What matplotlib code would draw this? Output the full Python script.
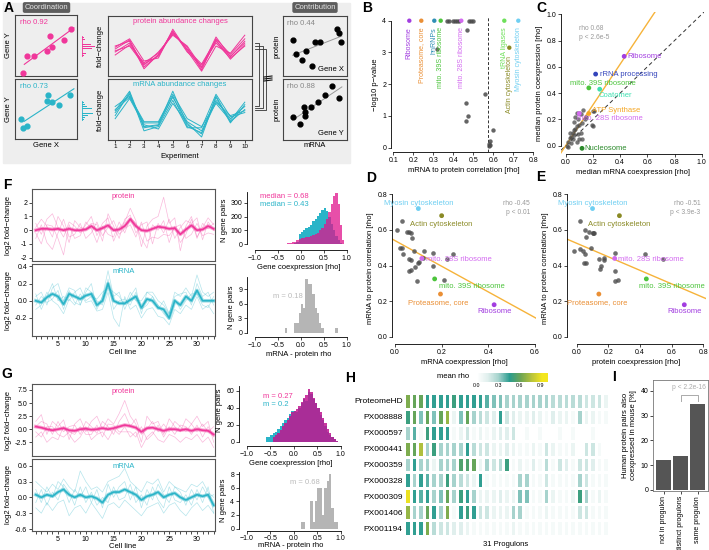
import numpy as np
import matplotlib
matplotlib.use("Agg")
import matplotlib.pyplot as plt
from matplotlib.colors import LinearSegmentedColormap
from matplotlib.lines import Line2D
from matplotlib.patches import Rectangle
import matplotlib.cm as cm

plt.rcParams['font.family'] = ['Liberation Sans', 'DejaVu Sans']
plt.rcParams['axes.linewidth'] = 0.6

PINK = '#f0369a'
CYAN = '#2ab4c8'
GREY = '#4a4a4a'
ORANGE = '#f6b33a'

# ---------------- data ----------------
# A: coordination scatters (unit coords)
a_prot_x = [0.13, 0.19, 0.30, 0.51, 0.57, 0.59, 0.79, 0.90]
a_prot_y = [0.05, 0.33, 0.32, 0.41, 0.66, 0.48, 0.59, 0.77]
a_mrna_x = [0.09, 0.13, 0.20, 0.52, 0.54, 0.59, 0.71, 0.88]
a_mrna_y = [0.34, 0.19, 0.22, 0.63, 0.74, 0.61, 0.56, 0.74]
a_experiments = list(range(1, 11))
a_prot_lines = [
    [0.40, 0.55, 0.20, 0.33, 0.72, 0.45, 0.13, 0.58, 0.33, 0.55],
    [0.45, 0.60, 0.15, 0.35, 0.75, 0.40, 0.18, 0.55, 0.30, 0.50],
    [0.35, 0.52, 0.22, 0.38, 0.70, 0.48, 0.10, 0.62, 0.36, 0.62],
    [0.48, 0.62, 0.25, 0.30, 0.78, 0.42, 0.08, 0.50, 0.38, 0.68],
    [0.42, 0.50, 0.18, 0.40, 0.68, 0.50, 0.15, 0.65, 0.32, 0.58],
    [0.50, 0.58, 0.12, 0.36, 0.74, 0.44, 0.20, 0.60, 0.28, 0.52],
]
a_mrna_lines = [
    [0.45, 0.75, 0.22, 0.25, 0.80, 0.25, 0.10, 0.72, 0.30, 0.50],
    [0.50, 0.70, 0.28, 0.28, 0.70, 0.30, 0.15, 0.65, 0.35, 0.55],
    [0.40, 0.78, 0.15, 0.22, 0.65, 0.20, 0.20, 0.75, 0.38, 0.45],
    [0.55, 0.72, 0.30, 0.30, 0.75, 0.35, 0.22, 0.60, 0.32, 0.62],
    [0.35, 0.68, 0.25, 0.18, 0.60, 0.28, 0.05, 0.70, 0.28, 0.58],
    [0.48, 0.80, 0.20, 0.24, 0.72, 0.22, 0.12, 0.62, 0.40, 0.48],
]
a_genex_mrna = [0.16, 0.21, 0.29, 0.36, 0.45, 0.50, 0.58, 0.85, 0.88, 0.90]
a_genex_prot = [0.60, 0.37, 0.26, 0.41, 0.17, 0.57, 0.56, 0.78, 0.71, 0.56]
a_geney_mrna = [0.15, 0.26, 0.33, 0.34, 0.34, 0.43, 0.54, 0.66, 0.76, 0.88]
a_geney_prot = [0.37, 0.26, 0.54, 0.46, 0.40, 0.54, 0.63, 0.74, 0.89, 0.69]
a_glyph_prot = [2, 4, 6, 9, 12, 8, 5, 3, 2]
a_glyph_mrna = [2, 3, 6, 10, 12, 9, 5, 3, 2]

# B: volcano-like
b_grey_x = [0.32, 0.37, 0.38, 0.40, 0.41, 0.42, 0.43, 0.48, 0.49, 0.50, 0.47,
            0.56, 0.465, 0.475, 0.465, 0.60, 0.585, 0.58, 0.578, 0.586]
b_grey_y = [3.1, 4, 4, 4, 4, 4, 4, 4, 4, 4, 3.7,
            1.7, 1.4, 1.0, 0.83, 0.55, 0.22, 0.12, 0.05, 0.08]
b_names = ['Ribosome', 'Proteasome, core', 'hnRNPs', 'mito. 39S ribosome',
           'mito. 28S ribosome', 'tRNA ligases', 'Actin cytoskeleton', 'Myosin cytoskeleton']
b_x = [0.18, 0.24, 0.305, 0.337, 0.44, 0.655, 0.68, 0.725]
b_y = [4, 4, 4, 4, 4, 4, 3.15, 4]
b_colors = ['#a23ee0', '#ea8f35', '#2f8fb5', '#4cc43c', '#d36af0', '#6ee05a', '#8a8a25', '#6fcff2']
b_cutoff = 0.572

# C: median coexpression
c_grey_x = [0.02, 0.03, 0.04, 0.05, 0.06, 0.05, 0.07, 0.08, 0.06, 0.07, 0.08, 0.10, 0.09,
            0.10, 0.12, 0.14, 0.10, 0.12, 0.08, 0.09, 0.11, 0.03, 0.15, 0.20, 0.21, 0.19,
            0.20, 0.13, 0.11, 0.06, 0.04, 0.01, 0.02]
c_grey_y = [0.03, 0.06, 0.02, 0.10, 0.08, 0.05, 0.13, 0.15, 0.18, 0.22, 0.25, 0.25, 0.20,
            0.16, 0.17, 0.20, 0.05, 0.05, 0.03, 0.09, 0.10, 0.10, 0.22, 0.265, 0.265, 0.16,
            0.15, 0.27, 0.24, 0.12, 0.07, 0.00, -0.01]
c_names = ['Ribosome', 'rRNA processing', 'mito. 39S ribosome', 'Coatomer',
           'ATP Synthase', 'mito. 28S ribosome', 'Nucleosome']
c_x = [0.43, 0.22, 0.17, 0.25, 0.17, 0.10, 0.12]
c_y = [0.68, 0.545, 0.44, 0.43, 0.245, 0.245, -0.02]
c_colors = ['#a23ee0', '#3344bb', '#4cc43c', '#3de0b0', '#f5a623', '#d36af0', '#2a8a2a']
c_fit = (0.0, 1.55)

# D / E
de_names = ['Myosin cytoskeleton', 'Actin cytoskeleton', 'mito. 28S ribosome',
            'mito. 39S ribosome', 'Proteasome, core', 'Ribosome']
de_colors = ['#6fcff2', '#8a8a25', '#d36af0', '#4cc43c', '#ea8f35', '#a23ee0']
de_y = [0.72, 0.68, 0.44, 0.325, 0.24, 0.18]
d_x = [0.10, 0.20, 0.115, 0.17, 0.195, 0.425]
d_grey_x = [0.01, 0.03, 0.02, 0.03, 0.035, 0.05, 0.06, 0.07, 0.075, 0.08, 0.06, 0.07, 0.06,
            0.07, 0.085, 0.095, 0.10, 0.105, 0.125, 0.12, 0.165, 0.165, 0.21, 0.225, 0.25]
d_grey_y = [0.60, 0.65, 0.50, 0.50, 0.465, 0.59, 0.59, 0.585, 0.555, 0.48, 0.435, 0.43, 0.37,
            0.375, 0.39, 0.315, 0.415, 0.42, 0.48, 0.445, 0.47, 0.395, 0.32, 0.435, 0.465]
d_fit = (0.54, -0.72)
e_x = [0.10, 0.27, 0.24, 0.44, 0.14, 0.68]
e_grey_x = [-0.02, 0.02, 0.02, 0.04, 0.05, 0.06, 0.055, 0.045, 0.06, 0.08, 0.10, 0.105, 0.11,
            0.09, 0.14, 0.15, 0.155, 0.17, 0.17, 0.24, 0.24, 0.245, 0.26, 0.43, 0.545]
e_grey_y = [0.48, 0.495, 0.65, 0.48, 0.60, 0.56, 0.465, 0.415, 0.415, 0.59, 0.585, 0.58, 0.585,
            0.50, 0.435, 0.38, 0.395, 0.43, 0.44, 0.47, 0.37, 0.315, 0.32, 0.465, 0.435]
e_fit = (0.525, -0.38)

# F / G traces over 33 cell lines
cell_lines = list(range(1, 34))
f_prot_mean = [0.0, 0.1, 0.1, 0.05, 0.1, 0.0, 0.1, 0.0, 0.0, 0.05, 0.3, 0.0, 0.15, 0.35, 0.0, 0.05, 0.3,
               0.8, 0.3, 0.0, -0.05, 0.1, 0.25, 0.2, 0.1, 0.15, -0.3, 0.05, 0.35, 0.0, 0.05, 0.3, 0.1]
f_prot_traces = [
    [0.5, -0.3, 0.8, 1.2, 0.2, -0.5, 0.6, 0.3, -0.2, 0.4, 1.0, -0.4, 0.5, 0.9, -0.8, 0.2, 0.6,
     1.6, 0.7, -1.2, 0.3, 0.8, 1.0, 2.4, 0.5, 0.9, -1.5, 0.3, 1.0, -0.5, 0.2, 0.9, 0.4],
    [-0.6, 0.4, -0.9, -1.4, -0.2, 0.8, -0.5, -0.3, 0.5, -0.6, -0.2, 0.6, -0.4, 0.2, 0.7, -0.3, 0.1,
     0.4, -0.5, 0.6, -0.8, -0.5, -0.6, -0.3, -0.4, 0.2, 0.4, -0.6, -0.3, 0.5, -0.4, -0.2, -0.3],
    [0.2, 0.8, 0.3, -0.5, 1.0, 0.3, -0.9, 0.7, 0.2, 0.1, 0.5, 0.4, -0.8, 1.2, 0.3, -0.6, 0.8,
     1.1, -0.2, 0.4, 0.6, -1.0, 0.5, -0.2, 0.8, -0.6, 0.2, 0.7, 0.5, 0.9, -0.7, 0.6, 0.0],
    [-0.2, -1.0, 0.4, 0.3, -0.6, -1.8, 0.4, -0.6, -0.4, 0.6, 0.1, -0.9, 0.3, -0.3, -0.5, 0.6, -0.2,
     0.9, 0.5, -0.6, -1.3, 0.4, 0.0, 0.7, -0.9, 0.3, -0.9, -0.3, 0.8, -0.6, 0.5, 0.1, 0.5],
]
f_mrna_mean = [0.0, -0.02, 0.04, 0.08, 0.05, -0.04, 0.08, 0.05, 0.02, 0.06, 0.08, -0.05, 0.0, 0.2, 0.0,
               -0.03, -0.03, 0.01, 0.05, -0.08, 0.02, 0.0, -0.08, -0.1, -0.2, 0.0, -0.05, 0.05, 0.0,
               0.12, 0.0, 0.0, 0.0]
f_mrna_traces = [
    [0.05, 0.1, -0.05, 0.15, 0.2, 0.0, 0.15, 0.12, -0.05, 0.1, 0.2, -0.1, 0.05, 0.35, 0.05, 0.1, -0.1,
     0.05, 0.15, -0.15, 0.1, 0.1, 0.0, -0.05, -0.15, 0.1, 0.05, 0.15, 0.05, 0.3, 0.1, 0.05, 0.1],
    [-0.1, -0.05, 0.1, 0.0, -0.05, -0.15, 0.02, -0.05, 0.08, -0.02, 0.0, -0.12, -0.1, 0.1, -0.2, -0.3,
     0.05, -0.1, -0.05, -0.2, -0.1, -0.08, -0.18, -0.2, -0.28, -0.1, -0.15, -0.05, -0.1, 0.05, -0.1,
     -0.05, -0.15],
    [0.08, -0.1, 0.05, 0.2, 0.0, 0.05, 0.0, 0.1, 0.15, 0.0, 0.05, 0.02, 0.1, 0.15, 0.1, 0.05, -0.05,
     0.1, 0.0, 0.0, 0.1, 0.05, -0.1, 0.0, -0.15, 0.05, 0.08, 0.1, -0.05, 0.2, 0.05, 0.1, -0.05],
    [-0.05, 0.05, -0.02, 0.02, 0.12, -0.1, 0.12, -0.02, -0.05, 0.15, 0.1, 0.0, -0.05, 0.25, -0.1, 0.0,
     0.02, -0.05, 0.1, -0.1, -0.05, 0.05, -0.05, -0.15, -0.22, 0.02, -0.1, 0.0, 0.08, 0.08, -0.05,
     -0.08, 0.05],
]
g_prot_mean = [0.5, 0.3, 0.0, -0.2, 0.0, 0.2, -0.2, -0.3, 0.0, 0.1, -0.1, 0.0, 0.2, 0.0, 0.2, 0.5, 0.8,
               0.6, 0.3, -0.5, 0.2, 0.3, 0.0, -0.3, 0.0, 0.0, -0.2, 0.0, -0.3, 0.0, -0.2, -0.3, -1.0]
g_prot_traces = [
    [1.5, 2.8, -1.0, 1.5, 0.5, 1.8, -2.0, 1.0, 2.0, -0.5, 1.5, 2.5, 0.0, 2.0, 1.0, 3.0, 5.5, 2.5, 1.0,
     -2.5, 2.5, 1.0, 1.5, -1.0, 2.0, 0.5, -0.5, 2.0, 1.0, 2.5, 0.5, 1.5, -2.5],
    [-1.5, -0.5, -2.5, -1.5, -2.0, 0.5, -1.0, -2.5, -1.5, 0.5, -2.0, -1.0, -0.5, -2.0, 0.0, -1.0, 0.5,
     -1.5, -0.5, -3.5, -1.5, -0.5, -2.0, -2.5, -1.0, -1.5, -2.5, -1.5, -2.0, -1.0, -2.5, -1.5, -3.5],
    [0.5, 1.5, 1.0, -1.0, 1.5, -0.5, 0.5, 0.8, -1.0, 1.5, 0.5, -0.8, 1.5, 0.5, -1.0, 1.5, 3.0, 0.5,
     2.0, -1.0, 0.0, 1.5, -0.5, 1.0, -0.5, 1.5, 0.5, -0.5, 1.0, -0.5, 1.0, -0.5, 0.5],
    [-0.5, -1.5, 0.5, 0.5, -1.0, -1.5, -0.5, -1.0, 0.5, -1.0, -1.0, 0.8, -1.5, 1.0, 0.8, -0.5, -0.5,
     -0.5, -1.5, 0.5, -2.0, -1.0, 0.8, -1.5, 0.5, -1.0, 0.8, 0.5, -1.0, 0.8, -1.5, 0.5, -1.5],
]
g_mrna_mean = [0.05, 0.0, 0.05, 0.02, 0.1, 0.15, 0.05, 0.0, 0.05, 0.0, 0.02, -0.02, -0.1, 0.05, 0.1,
               0.1, 0.15, 0.1, 0.05, -0.05, 0.02, 0.05, 0.1, 0.0, 0.05, 0.08, 0.0, -0.05, 0.0, 0.05,
               0.02, 0.05, -0.15]
g_mrna_traces = [
    [0.3, 0.2, 0.1, 0.25, 0.15, 0.35, 0.2, 0.1, 0.5, 0.3, 0.15, 0.2, 0.1, 0.3, 0.35, 0.4, 0.55, 0.3,
     0.2, 0.1, 0.3, 0.25, 0.35, 0.1, 0.3, 0.2, 0.15, 0.1, 0.25, 0.2, 0.3, 0.1, 0.0],
    [-0.2, -0.3, -0.1, -0.25, -0.1, -0.05, -0.35, -0.2, -0.15, -0.3, -0.1, -0.25, -0.4, -0.15, -0.1,
     -0.2, -0.05, -0.15, -0.25, -0.35, -0.2, -0.15, -0.1, -0.3, -0.15, -0.1, -0.25, -0.35, -0.2,
     -0.1, -0.25, -0.15, -0.3],
    [0.15, -0.1, 0.2, 0.0, 0.3, 0.2, -0.1, 0.15, 0.0, 0.2, -0.1, 0.15, -0.2, 0.25, 0.0, 0.2, 0.3,
     -0.05, 0.2, -0.2, 0.15, -0.05, 0.25, 0.05, -0.1, 0.2, 0.1, -0.15, 0.15, -0.05, 0.2, 0.0, 0.05],
    [-0.1, 0.15, -0.15, 0.1, -0.05, 0.25, 0.1, -0.15, 0.2, -0.1, 0.1, -0.15, 0.0, -0.1, 0.2, -0.05,
     0.0, 0.25, -0.1, 0.05, -0.15, 0.2, -0.05, -0.2, 0.2, -0.05, -0.1, 0.05, -0.15, 0.15, -0.1, 0.2,
     -0.3],
]

# histograms (bin start, bin width, counts)
f_coexp_start = -0.35
f_coexp_prot = [4, 6, 9, 14, 20, 28, 35, 42, 48, 52, 56, 60, 65, 72, 85, 100, 120, 150, 185, 230,
                290, 350, 370, 290, 140, 30]
f_coexp_mrna = [0, 0, 0, 3, 8, 20, 75, 90, 105, 115, 125, 140, 165, 185, 205, 225, 245, 260, 240,
                200, 150, 100, 60, 30, 12, 4]
f_diff_start = -0.35
f_diff = [1, 0, 0, 0, 2, 2, 4, 6, 5, 11, 10, 10, 8, 5, 4, 2, 1, 0, 0, 0, 0, 0, 1]
g_coexp_start = -0.6
g_coexp_mrna = [5, 5, 8, 10, 12, 15, 18, 22, 25, 28, 33, 36, 36, 35, 40, 45, 50, 48, 58, 56, 50, 45,
                40, 32, 25, 18, 12, 8, 5, 3, 1]
g_coexp_prot = [0, 0, 0, 5, 8, 10, 14, 18, 22, 26, 30, 35, 36, 38, 42, 47, 52, 55, 62, 58, 52, 46,
                40, 35, 28, 22, 15, 10, 6, 3, 1]
g_diff_start = 0.15
g_diff = [1, 1, 0, 0, 4, 1, 4, 6, 6, 2, 6, 7, 8, 3, 1, 1]
bin_w = 0.05

# H heatmap
h_rows = ['ProteomeHD', 'PX008888', 'PX000597', 'PX000441', 'PX000359',
          'PX000328', 'PX000309', 'PX001406', 'PX001194']
h_vals = [
    [0.65, 0.6, 0.6, 0.45, 0.45, 0.45, 0.45, 0.5, 0.45, 0.45, 0.45, 0.45, 0.4, 0.35, 0.35, 0.3, 0.3,
     0.3, 0.3, 0.3, 0.3, 0.3, 0.25, 0.25, 0.25, 0.25, 0.25, 0.2, 0.2, 0.2, 0.1],
    [0.5, 0.6, 0.35, 0.6, 0.35, 0.6, 0.7, 0.1, 0.35, 0.6, 0.3, 0.25, 0.2, 0.15, 0.45, 0.2, 0.15, 0.1,
     0.1, 0.15, 0.1, 0.05, 0.15, 0.1, 0.1, 0.05, 0.3, 0.1, 0.1, 0.05, 0.05],
    [0.3, 0.4, 0.05, 0.5, 0.45, 0.45, 0.45, 0.05, 0.1, 0.2, 0.05, 0.1, 0.05, 0.1, 0.15, 0.15, 0.2,
     0.0, 0.05, 0.0, 0.05, 0.0, 0.0, 0.05, 0.0, 0.05, 0.0, 0.0, 0.05, 0.0, 0.0],
    [0.65, 0.6, 0.75, 0.3, 0.5, 0.3, 0.3, 0.3, 0.3, 0.45, 0.25, 0.2, 0.2, 0.1, 0.1, 0.15, 0.1, 0.05,
     0.05, 0.1, 0.05, 0.2, 0.1, 0.05, 0.05, 0.1, 0.0, 0.2, 0.2, 0.05, 0.0],
    [0.3, 0.45, 0.3, 0.3, 0.1, 0.3, 0.3, 0.3, 0.55, 0.55, 0.6, 0.1, 0.3, 0.2, 0.25, 0.5, 0.05, 0.1,
     0.05, 0.15, 0.05, 0.25, 0.05, 0.2, 0.15, 0.05, 0.2, 0.2, 0.15, 0.05, 0.05],
    [0.45, 0.3, 0.45, 0.4, 0.3, 0.3, 0.5, 0.3, 0.25, 0.2, 0.1, 0.45, 0.05, 0.05, 0.05, 0.05, 0.05,
     0.3, 0.3, 0.05, 0.05, 0.2, 0.05, 0.05, 0.05, 0.05, 0.3, 0.2, 0.05, 0.05, 0.05],
    [0.9, 0.45, 0.4, 0.45, 0.3, 0.35, 0.6, 0.3, 0.5, 0.45, 0.3, 0.1, 0.1, 0.1, 0.15, 0.1, 0.1, 0.35,
     0.35, 0.05, 0.05, 0.3, 0.1, 0.05, 0.05, 0.1, 0.5, 0.3, 0.05, 0.1, 0.05],
    [0.7, 0.3, 0.3, 0.6, 0.45, 0.3, 0.65, 0.05, 0.45, 0.5, 0.45, 0.2, 0.2, 0.1, 0.1, 0.1, 0.3, 0.3,
     0.05, 0.05, 0.05, 0.1, 0.05, 0.05, 0.05, 0.05, 0.2, 0.2, 0.05, 0.05, 0.05],
    [0.45, 0.45, 0.45, 0.65, 0.25, 0.2, 0.2, 0.15, 0.15, 0.1, 0.05, 0.05, 0.05, 0.05, 0.05, 0.05, 0.1,
     0.05, 0.05, 0.05, 0.05, 0.05, 0.05, 0.05, 0.05, 0.05, 0.05, 0.05, 0.05, 0.05, 0.05],
]

# I bars
i_cats = ['not in progulon', 'distinct progulons', 'same progulon']
i_vals = [12.2, 13.8, 34.5]

# ---------------- helpers ----------------
W, H = 709, 550
fig = plt.figure(figsize=(7.09, 5.5), dpi=100)


def axes_px(x0, y0, x1, y1, xcal=None, ycal=None):
    ax = fig.add_axes([x0 / W, 1 - y1 / H, (x1 - x0) / W, (y1 - y0) / H])
    if xcal:
        (v0, p0), (v1, p1) = xcal
        s = (p1 - p0) / (v1 - v0)
        ax.set_xlim(v0 + (x0 - p0) / s, v0 + (x1 - p0) / s)
    if ycal:
        (v0, p0), (v1, p1) = ycal
        s = (p1 - p0) / (v1 - v0)
        ax.set_ylim(v0 + (y1 - p0) / s, v0 + (y0 - p0) / s)
    return ax


def ftext(x, y, s, **kw):
    fig.text(x / W, 1 - y / H, s, **kw)


def rstyle(ax, xb=None, yb=None):
    for s in ['top', 'right']:
        ax.spines[s].set_visible(False)
    if xb:
        ax.spines['bottom'].set_bounds(*xb)
    if yb:
        ax.spines['left'].set_bounds(*yb)
    ax.tick_params(labelsize=5, length=2, width=0.5, pad=1.5)
    ax.set_facecolor('none')


def frame(ax, color='#444444', lw=0.8):
    for s in ax.spines.values():
        s.set_color(color)
        s.set_linewidth(lw)
    ax.set_xticks([])
    ax.set_yticks([])
    ax.set_facecolor('none')


def fline(pts, **kw):
    xs = [p[0] / W for p in pts]
    ys = [1 - p[1] / H for p in pts]
    fig.add_artist(Line2D(xs, ys, transform=fig.transFigure, **kw))


def hist(ax, start, counts, **kw):
    edges = start + bin_w * np.arange(len(counts) + 1)
    ax.stairs(counts, edges, fill=True, **kw)


# ---------------- panel letters ----------------
for lab, (x, y) in {'A': (9, 8), 'B': (367, 8), 'C': (541, 8), 'D': (371, 178), 'E': (541, 177),
                    'F': (7, 185), 'G': (7, 374), 'H': (350, 378), 'I': (614, 377)}.items():
    ftext(x, y, lab, fontsize=10, fontweight='bold', ha='center', va='center')

# ---------------- A ----------------
fig.add_artist(Rectangle((3 / W, 1 - 163 / H), 347 / W, 160 / H, transform=fig.transFigure,
                         color='#eeeeee', zorder=0))
for txt, cx in [('Coordination', 46.5), ('Contribution', 315)]:
    ftext(cx, 7.5, txt, fontsize=5.5, color='#e6e6e6', ha='center', va='center',
          bbox=dict(boxstyle='round,pad=0.25', fc='#5e5e5e', ec='none'))

for (y0, y1), xs, ys, col, rho in [((15, 76), a_prot_x, a_prot_y, PINK, 'rho 0.92'),
                                     ((79, 139), a_mrna_x, a_mrna_y, CYAN, 'rho 0.73')]:
    ax = axes_px(15, y0, 77, y1)
    ax.set_xlim(0, 1)
    ax.set_ylim(0, 1)
    frame(ax)
    ax.scatter(xs, ys, s=12, color=col, zorder=3)
    m, b = np.polyfit(xs, ys, 1)
    ax.plot([0.15, 0.95], [m * 0.15 + b, m * 0.95 + b], color=col, lw=0.8)
    ax.text(0.08, 0.93, rho, transform=ax.transAxes, color=col, fontsize=5.5, va='top')
    ftext(8, (y0 + y1) / 2, 'Gene Y', fontsize=5.5, rotation=90, ha='center', va='center')
ftext(46, 146, 'Gene X', fontsize=5.5, ha='center', va='center')

for (y0, y1), glyph, col in [((36, 57), a_glyph_prot, PINK), ((101, 121), a_glyph_mrna, CYAN)]:
    ax = axes_px(82, y0, 97, y1)
    ax.barh(range(len(glyph)), glyph, height=0.35, color=col)
    ax.axvline(0, color=col, lw=0.6)
    ax.set_xlim(0, 14)
    ax.axis('off')

for (y0, y1), lines, col, title, show_x in [((16, 76), a_prot_lines, PINK, 'protein abundance changes', False),
                                              ((79, 140), a_mrna_lines, CYAN, 'mRNA abundance changes', True)]:
    ax = axes_px(108, y0, 252, y1)
    for ln in lines:
        ax.plot(a_experiments, ln, color=col, lw=0.7)
    ax.set_xlim(0.5, 10.5)
    ax.set_ylim(0, 1)
    frame(ax)
    ax.text(0.5, 0.97, title, transform=ax.transAxes, color=col, fontsize=5.5, ha='center', va='top')
    ftext(100, (y0 + y1) / 2, 'fold\u2212change', fontsize=5.5, rotation=90, ha='center', va='center')
    if show_x:
        ax.set_xticks(a_experiments)
        ax.tick_params(labelsize=4.5, length=2, width=0.5, pad=1)
ftext(180, 156, 'Experiment', fontsize=5.5, ha='center', va='center')

for i in range(3):
    fline([(255, 43 + 3 * i), (259 + 3.5 * i, 43 + 3 * i), (259 + 3.5 * i, 106 + 2 * i), (255, 106 + 2 * i)],
          color='#333333', lw=0.6)
for i in range(3):
    fline([(264, 77 + 2 * i), (272, 76 + 2 * i)], color='#111111', lw=0.8)

for (y0, y1), xs, ys, rho, gene in [((16, 76), a_genex_mrna, a_genex_prot, 'rho 0.44', 'Gene X'),
                                      ((79, 140), a_geney_mrna, a_geney_prot, 'rho 0.88', 'Gene Y')]:
    ax = axes_px(283, y0, 347, y1)
    ax.set_xlim(0, 1)
    ax.set_ylim(0, 1)
    frame(ax)
    ax.scatter(xs, ys, s=12, color='black', zorder=3)
    m, b = np.polyfit(xs, ys, 1)
    ax.plot([0.15, 0.92], [m * 0.15 + b, m * 0.92 + b], color='#999999', lw=0.7)
    ax.text(0.06, 0.94, rho, transform=ax.transAxes, color='#888888', fontsize=5.5, va='top')
    ax.text(0.95, 0.05, gene, transform=ax.transAxes, color='black', fontsize=5.5, ha='right', va='bottom')
    ftext(277, (y0 + y1) / 2, 'protein', fontsize=5.5, rotation=90, ha='center', va='center')
ftext(315, 146, 'mRNA', fontsize=5.5, ha='center', va='center')

# ---------------- B ----------------
ax = axes_px(391, 17, 537, 152, xcal=((0.1, 393.3), (0.8, 533.3)), ycal=((0, 147.7), (4, 20.7)))
rstyle(ax, (0.1, 0.8), (0, 4))
ax.scatter(b_grey_x, b_grey_y, s=10, color=GREY, alpha=0.85, lw=0, zorder=3)
ax.scatter(b_x, b_y, s=10, color=b_colors, lw=0, zorder=4)
for n, x, y, c in zip(b_names, b_x, b_y, b_colors):
    y_top = y - 0.2 if n != 'Actin cytoskeleton' else y - 0.25
    ax.text(x, y_top, n, rotation=90, ha='center', va='top', fontsize=5, color=c)
ax.axvline(b_cutoff, color='#333333', ls=(0, (3, 2)), lw=0.7)
ax.set_xticks(np.arange(0.1, 0.81, 0.1))
ax.set_yticks([0, 1, 2, 3, 4])
ax.set_xlabel('mRNA to protein correlation [rho]', fontsize=5.5, labelpad=2)
ax.set_ylabel('\u2212log10 p\u2212value', fontsize=5.5, labelpad=2)

# ---------------- C ----------------
ax = axes_px(561, 12, 704, 154, xcal=((0, 565.7), (1, 701.7)), ycal=((0, 145.7), (1, 14.3)))
rstyle(ax, (0, 1), (0, 1))
ax.axline((0, 0), slope=1, color='#333333', ls=(0, (4, 3)), lw=0.7)
ax.axline((0, c_fit[0]), slope=c_fit[1], color=ORANGE, lw=1)
ax.scatter(c_grey_x, c_grey_y, s=10, color=GREY, alpha=0.75, lw=0, zorder=3)
ax.scatter(c_x, c_y, s=12, color=c_colors, lw=0, zorder=4)
c_label_pos = {'Ribosome': (0.45, 0.68, 'left'), 'rRNA processing': (0.25, 0.545, 'left'),
               'mito. 39S ribosome': (0.27, 0.475, 'center'), 'Coatomer': (0.24, 0.385, 'left'),
               'ATP Synthase': (0.19, 0.27, 'left'), 'mito. 28S ribosome': (0.08, 0.205, 'left'),
               'Nucleosome': (0.14, -0.02, 'left')}
for n, c in zip(c_names, c_colors):
    tx, ty, h = c_label_pos[n]
    ax.text(tx, ty, n, color=c, fontsize=5.5, ha=h, va='center')
ax.text(0.1, 0.92, 'rho 0.68\np < 2.6e-5', color='#999999', fontsize=4.8, va='top', linespacing=1.4)
ax.set_xticks([0, 0.2, 0.4, 0.6, 0.8, 1.0])
ax.set_yticks([0, 0.2, 0.4, 0.6, 0.8, 1.0])
ax.set_xlabel('median mRNA coexpression [rho]', fontsize=5.5, labelpad=2)
ax.set_ylabel('median protein coexpression [rho]', fontsize=5.5, labelpad=2)

# ---------------- D / E ----------------
for x0, x1, xcal, gx, gy, cx, fit, stat, xlab, xt, xb in [
        (392, 536, ((0, 395), (0.4, 488.3)), d_grey_x, d_grey_y, d_x, d_fit, 'rho -0.45\np < 0.01',
         'mRNA coexpression [rho]', [0, 0.2, 0.4, 0.6], (0, 0.6)),
        (567, 706, ((0, 576.7), (0.8, 703.3)), e_grey_x, e_grey_y, e_x, e_fit, 'rho -0.51\np < 3.9e-3',
         'protein coexpression [rho]', [0, 0.2, 0.4, 0.6, 0.8], (0, 0.8))]:
    ax = axes_px(x0, 192, x1, 344, xcal=xcal, ycal=((0, 336.8), (0.8, 194.3)))
    rstyle(ax, xb, (0, 0.8))
    ax.axline((0, fit[0]), slope=fit[1], color=ORANGE, lw=1)
    ax.scatter(gx, gy, s=11, color=GREY, alpha=0.8, lw=0, zorder=3)
    ax.scatter(cx, de_y, s=12, color=de_colors, lw=0, zorder=4)
    for n, x, y, c in zip(de_names, cx, de_y, de_colors):
        if n == 'Actin cytoskeleton':
            ax.text(x, y - 0.03, n, color=c, fontsize=5.5, ha='center', va='top')
        elif n == 'Myosin cytoskeleton':
            ax.text(x, y + 0.01, n, color=c, fontsize=5.5, ha='center', va='bottom')
        elif n == 'Ribosome':
            ax.text(x, y - 0.02, n, color=c, fontsize=5.5, ha='center', va='top')
        elif n == 'mito. 39S ribosome':
            ax.text(x + 0.16, y - 0.045, n, color=c, fontsize=5.5, ha='center', va='center')
        elif n == 'Proteasome, core':
            ax.text(x - 0.01, y - 0.045, n, color=c, fontsize=5.5, ha='center', va='center')
        else:
            ax.text(x + 0.02, y - 0.005, n, color=c, fontsize=5.5, ha='left', va='center')
    ax.text(0.96, 0.95, stat, transform=ax.transAxes, color='#999999', fontsize=4.8,
            ha='right', va='top', linespacing=1.4)
    ax.set_xticks(xt)
    ax.set_yticks([0, 0.2, 0.4, 0.6, 0.8])
    ax.set_xlabel(xlab, fontsize=5.5, labelpad=2)
    ax.set_ylabel('mRNA to protein correlation [rho]', fontsize=5.5, labelpad=2)

# ---------------- F / G traces ----------------
xcal_cells = ((5, 58), (30, 197))


def trace_panel(y0, y1, ycal, mean, traces, col, title, yt, ylab_fmt, bottom):
    ax = axes_px(32, y0, 215, y1, xcal=xcal_cells, ycal=ycal)
    for tr in traces:
        ax.plot(cell_lines, tr, color=col, lw=0.5, alpha=0.35)
    ax.plot(cell_lines, mean, color=col, lw=2.6, alpha=0.45)
    ax.plot(cell_lines, mean, color=col, lw=1.2)
    for s in ax.spines.values():
        s.set_color('#555555')
        s.set_linewidth(0.8)
    ax.set_yticks(yt)
    ax.set_yticklabels([ylab_fmt(v) for v in yt])
    ax.tick_params(labelsize=5, length=2, width=0.5, pad=1.5)
    ax.text(0.5, 0.95, title, transform=ax.transAxes, color=col, fontsize=5.5, ha='center', va='top')
    ftext(9, (y0 + y1) / 2, 'log2 fold\u2212change', fontsize=5.5, rotation=90, ha='center', va='center')
    if bottom:
        ax.set_xticks(cell_lines)
        ax.set_xticklabels([str(c) if c % 5 == 0 else '' for c in cell_lines])
    else:
        ax.set_xticks([])
    return ax


trace_panel(189, 261, ((2, 202.7), (-2, 257.7)), f_prot_mean, f_prot_traces, PINK, 'protein',
            [-2, -1, 0, 1, 2], lambda v: '%d' % v, False)
trace_panel(264, 336, ((0.4, 266.3), (-0.2, 318)), f_mrna_mean, f_mrna_traces, CYAN, 'mRNA',
            [-0.2, 0.0, 0.2, 0.4], lambda v: '%.1f' % v, True)
ftext(123, 352, 'Cell line', fontsize=5.5, ha='center', va='center')
trace_panel(384, 456, ((7.5, 390), (-2.5, 442.3)), g_prot_mean, g_prot_traces, PINK, 'protein',
            [-2.5, 0.0, 2.5, 5.0, 7.5], lambda v: '%.1f' % v, False)
trace_panel(459, 531, ((0.6, 465.7), (-0.6, 529)), g_mrna_mean, g_mrna_traces, CYAN, 'mRNA',
            [-0.6, -0.3, 0.0, 0.3, 0.6], lambda v: '%.1f' % v, True)
ftext(123, 546, 'Cell line', fontsize=5.5, ha='center', va='center')

# ---------------- F / G histograms ----------------
ax = axes_px(247, 190, 350, 250, xcal=((-1, 255), (1, 346.7)), ycal=((0, 244.3), (300, 202.7)))
rstyle(ax, (-1, 1), (0, 380))
hist(ax, f_coexp_start, f_coexp_mrna, color=CYAN)
hist(ax, f_coexp_start, f_coexp_prot, color='#e0148c', alpha=0.75)
ax.set_xticks([-1, -0.5, 0, 0.5, 1])
ax.set_yticks([0, 100, 200, 300])
ax.set_xlabel('Gene coexpression [rho]', fontsize=5.5, labelpad=1.5)
ax.set_ylabel('N gene pairs', fontsize=5.5, labelpad=2)
ax.text(-0.9, 345, 'median = 0.68', color=PINK, fontsize=5.5, va='center')
ax.text(-0.9, 290, 'median = 0.43', color=CYAN, fontsize=5.5, va='center')

ax = axes_px(247, 277, 350, 337, xcal=((-1, 255), (1, 346.7)), ycal=((0, 332.7), (9, 289)))
rstyle(ax, (-1, 1), (0, 11.5))
hist(ax, f_diff_start, f_diff, color='#b5b5b5')
ax.set_xticks([-1, -0.5, 0, 0.5, 1])
ax.set_yticks([0, 3, 6, 9])
ax.set_xlabel('mRNA - protein rho', fontsize=5.5, labelpad=1.5)
ax.set_ylabel('N gene pairs', fontsize=5.5, labelpad=2)
ax.text(-0.6, 7.5, 'm = 0.18', color='#bbbbbb', fontsize=5.5, va='center')

ax = axes_px(239, 375, 343, 446, xcal=((-1, 246.7), (1, 340.7)), ycal=((0, 441.7), (60, 390.7)))
rstyle(ax, (-1, 1), (0, 65))
hist(ax, g_coexp_start, g_coexp_mrna, color=CYAN)
hist(ax, g_coexp_start, g_coexp_prot, color='#c0168f', alpha=0.85)
ax.set_xticks([-1, -0.5, 0, 0.5, 1])
ax.set_yticks([0, 20, 40, 60])
ax.set_xlabel('Gene coexpression [rho]', fontsize=5.5, labelpad=1.5)
ax.set_ylabel('N gene pairs', fontsize=5.5, labelpad=2)
ax.text(-0.65, 53, 'm = 0.27', color=PINK, fontsize=5.5, va='center')
ax.text(-0.65, 44, 'm = 0.2', color=CYAN, fontsize=5.5, va='center')

ax = axes_px(239, 470, 343, 531, xcal=((-1, 246.7), (1, 340.7)), ycal=((0, 528.5), (8, 474.3)))
rstyle(ax, (-1, 1), (0, 8.3))
hist(ax, g_diff_start, g_diff, color='#b5b5b5')
ax.set_xticks([-1, -0.5, 0, 0.5, 1])
ax.set_yticks([0, 2, 4, 6, 8])
ax.tick_params(axis='x', pad=0.8)
ax.set_xlabel('mRNA - protein rho', fontsize=5.5, labelpad=0.3)
ax.set_ylabel('N gene pairs', fontsize=5.5, labelpad=2)
ax.text(0.55, 6.8, 'm = 0.68', color='#bbbbbb', fontsize=5.5, ha='right', va='center')

# ---------------- H ----------------
cmap = LinearSegmentedColormap.from_list('rho', [(0, '#ffffff'), (0.15, '#e0efed'), (0.3, '#a6d3cd'),
                                                 (0.46, '#2a9c8f'), (0.62, '#6fa653'),
                                                 (0.78, '#bcc53a'), (0.92, '#f3e61e'), (1.0, '#f3e61e')])
ax = axes_px(404, 393, 609, 536)
vals = np.array(h_vals)
ax.pcolormesh(vals, cmap=cmap, vmin=0, vmax=1.0, edgecolors='white', linewidth=1.8)
ax.set_xlim(0, vals.shape[1])
ax.set_ylim(vals.shape[0], 0)
for s in ax.spines.values():
    s.set_visible(False)
ax.set_xticks([])
ax.set_yticks(np.arange(len(h_rows)) + 0.5)
ax.set_yticklabels(h_rows, fontsize=6)
ax.tick_params(length=0, pad=1)
ftext(506, 544, '31 Progulons', fontsize=5.5, ha='center', va='center')
cax = axes_px(477, 373, 548, 382)
cb = fig.colorbar(cm.ScalarMappable(cmap=cmap, norm=plt.Normalize(0, 1.0)), cax=cax, orientation='horizontal')
cb.outline.set_visible(False)
cb.set_ticks([0, 0.3, 0.6, 0.9])
cb.ax.tick_params(labelsize=3.8, length=0, pad=1)
ftext(453, 377, 'mean rho', fontsize=5.5, ha='center', va='center')

# ---------------- I ----------------
ax = axes_px(653, 380, 708, 491, xcal=((0, 663.5), (1, 680.5)), ycal=((0, 490), (40, 390.7)))
ax.bar(range(3), i_vals, width=0.88, color='#555555')
for s in ax.spines.values():
    s.set_color('#777777')
    s.set_linewidth(0.6)
ax.set_yticks([0, 10, 20, 30, 40])
ax.set_xticks(range(3))
ax.set_xticklabels(i_cats, rotation=90)
ax.tick_params(labelsize=5, length=2, width=0.5, pad=1.5)
ax.set_ylabel('Human protein pairs also\ncoexpressed in mouse [%]', fontsize=5.5, labelpad=2)
ax.plot([1, 1, 2, 2], [35.8, 38.3, 38.3, 35.8], color='#aaaaaa', lw=0.7)
ax.text(1.5, 41.3, 'p < 2.2e-16', color='#aaaaaa', fontsize=4.8, ha='center', va='center')

fig.savefig('out.png', dpi=100)
